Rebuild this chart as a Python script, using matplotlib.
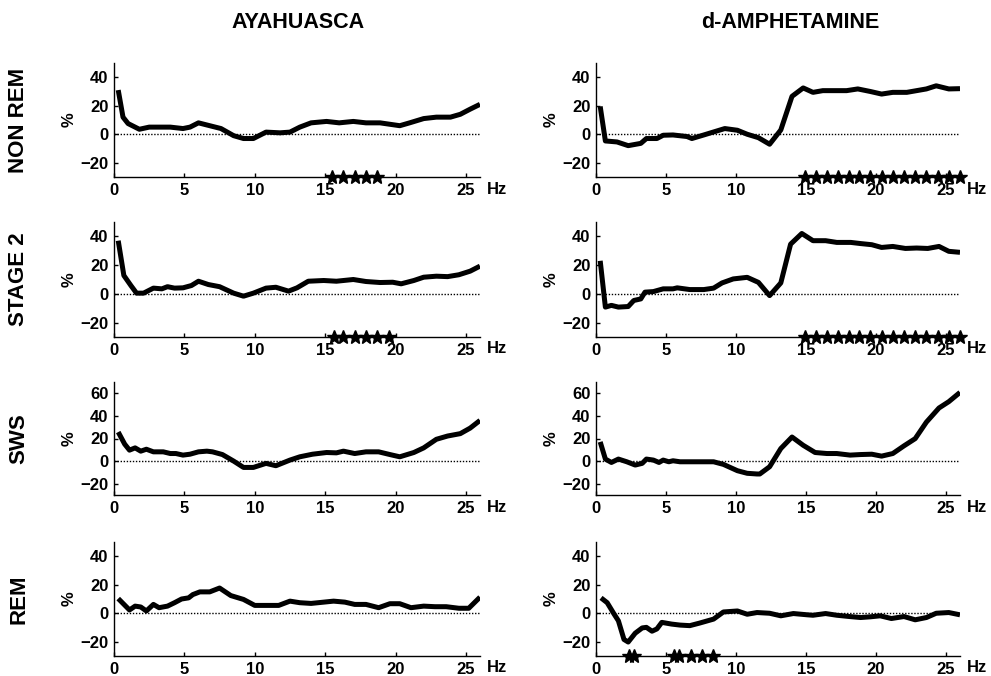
import matplotlib
matplotlib.use("Agg")
import matplotlib.pyplot as plt

plt.rcParams['font.family'] = ['Liberation Sans', 'DejaVu Sans']
plt.rcParams['font.weight'] = 'bold'

columns = ["AYAHUASCA", "d-AMPHETAMINE"]
rows = ["NON REM", "STAGE 2", "SWS", "REM"]
x_ticks = [0, 5, 10, 15, 20, 25]

# AYAHUASCA, NON REM
aya_nrem_hz = [0.3, 0.64, 1.0, 1.8, 2.5, 4.0, 4.9, 5.4, 6.0, 6.8, 7.6, 8.5, 9.2, 9.9, 10.8, 11.8,
               12.5, 13.2, 14.0, 15.1, 16.0, 17.0, 17.9, 18.9, 19.6, 20.3, 21.0, 22.0, 22.9, 23.9,
               24.6, 25.3, 26.0]
aya_nrem_pct = [31, 12, 7.5, 3.5, 5, 5, 4, 5, 8, 6, 4, -1, -3, -3, 1.5, 1,
                1.5, 5, 8, 9, 8, 9, 8, 8, 7, 6, 8, 11, 12, 12,
                14, 17.6, 21]
aya_nrem_stars = [15.5, 16.3, 17.1, 17.9, 18.7]

# d-AMPHETAMINE, NON REM
amp_nrem_hz = [0.3, 0.67, 1.5, 2.3, 3.2, 3.6, 4.35, 4.8, 5.5, 6.5, 6.85, 7.7, 8.4, 9.2, 10.1, 10.8,
               11.6, 12.4, 13.2, 14.0, 14.8, 15.5, 16.2, 17.2, 17.9, 18.7, 19.6, 20.4, 21.2, 22.2,
               22.9, 23.6, 24.3, 25.2, 26.0]
amp_nrem_pct = [19.5, -4.7, -5.4, -8, -6.4, -3, -3, -0.7, -0.5, -1.6, -3, -0.5, 1.6, 4, 2.8, 0,
                -2.4, -7, 3, 26.6, 32.5, 29.4, 30.6, 30.6, 30.6, 31.8, 30, 28.2, 29.4, 29.4,
                30.6, 31.8, 34, 31.8, 32]
amp_nrem_stars = [14.9, 15.7, 16.5, 17.3, 18.1, 18.8, 19.6, 20.4, 21.2, 22.0, 22.8, 23.6, 24.4,
                  25.2, 26.0]

# AYAHUASCA, STAGE 2
aya_s2_hz = [0.3, 0.7, 1.2, 1.6, 2.1, 2.8, 3.4, 3.8, 4.3, 4.9, 5.5, 6.0, 6.7, 7.5, 8.5, 9.2,
             9.9, 10.8, 11.5, 12.4, 13.0, 13.8, 14.9, 15.8, 17.0, 17.9, 18.9, 19.8, 20.4, 21.3,
             22.0, 22.9, 23.7, 24.5, 25.3, 26.0]
aya_s2_pct = [37, 12.8, 5.8, 0.5, 0.5, 4, 3.5, 5, 4, 4.2, 5.8, 8.8, 6.5, 5, 0.5, -1.6,
              0.5, 4, 4.6, 1.9, 4.2, 8.8, 9.3, 8.8, 10, 8.6, 7.9, 8.1, 7, 9.3,
              11.6, 12.3, 12, 13.3, 15.8, 19.3]
aya_s2_stars = [15.6, 16.3, 17.1, 17.9, 18.7, 19.5]

# d-AMPHETAMINE, STAGE 2
amp_s2_hz = [0.3, 0.67, 1.1, 1.6, 2.3, 2.7, 3.2, 3.5, 4.1, 4.8, 5.5, 5.8, 6.7, 7.7, 8.4, 9.0,
             9.8, 10.8, 11.6, 12.4, 13.2, 13.9, 14.7, 15.5, 16.4, 17.2, 18.2, 18.9, 19.7, 20.4,
             21.2, 22.1, 22.9, 23.7, 24.5, 25.2, 26.0]
amp_s2_pct = [23, -9.2, -8, -9.2, -8.8, -4.6, -3.5, 1.2, 1.6, 3.5, 3.5, 4.2, 3, 3, 4, 7.6,
              10.4, 11.5, 8, -1.2, 7.6, 34.6, 42, 37, 37, 35.8, 35.8, 35, 34.2, 32.3,
              33, 31.6, 31.9, 31.6, 33, 29.6, 28.9]
amp_s2_stars = [14.9, 15.7, 16.5, 17.3, 18.1, 18.8, 19.6, 20.4, 21.2, 22.0, 22.8, 23.6, 24.4,
                25.2, 26.0]

# AYAHUASCA, SWS
aya_sws_hz = [0.3, 0.76, 1.1, 1.5, 1.9, 2.3, 2.8, 3.5, 4.0, 4.4, 4.9, 5.4, 6.0, 6.6, 7.0, 7.7,
              8.5, 9.2, 9.9, 10.8, 11.5, 12.5, 13.2, 14.1, 15.1, 15.8, 16.3, 17.1, 17.9, 18.8,
              19.6, 20.3, 21.3, 22.0, 22.9, 23.7, 24.6, 25.3, 26.0]
aya_sws_pct = [25.7, 15, 9.7, 11.7, 8.8, 10.5, 8.2, 8.2, 6.7, 6.7, 5.3, 6.1, 8.2, 8.8, 8.2, 5.8,
               0, -5.6, -5.6, -2, -4.1, 0.9, 3.8, 6.1, 7.6, 7.3, 8.8, 6.7, 8.2, 8.2,
               5.8, 3.8, 7.6, 11.7, 19.3, 22.2, 24.3, 29.2, 36]
aya_sws_stars = []

# d-AMPHETAMINE, SWS
amp_sws_hz = [0.3, 0.67, 1.1, 1.6, 2.2, 2.8, 3.3, 3.6, 4.1, 4.5, 4.8, 5.2, 5.5, 6.0, 8.4, 9.1,
              10.1, 10.8, 11.5, 11.7, 12.4, 13.2, 14.0, 14.8, 15.65, 16.5, 17.2, 18.15, 18.9, 19.7,
              20.4, 21.2, 22.0, 22.8, 23.6, 24.5, 25.2, 26.0]
amp_sws_pct = [17, 1.8, -1.2, 1.8, -0.6, -3.5, -2, 1.8, 0.9, -1.2, 0.9, -0.6, 0.3, -0.6, -0.6, -2.9,
               -8.5, -10.8, -11.4, -11.4, -5, 11.1, 21.3, 14, 7.6, 6.7, 6.7, 5.3, 5.8, 6.1,
               4.4, 6.7, 13.5, 19.9, 34.5, 47, 52.6, 60.8]
amp_sws_stars = []

# AYAHUASCA, REM
aya_rem_hz = [0.3, 1.1, 1.5, 1.9, 2.3, 2.8, 3.2, 3.8, 4.3, 4.8, 5.3, 5.6, 6.1, 6.8, 7.5, 8.3,
              9.2, 10.0, 10.8, 11.7, 12.5, 13.2, 14.0, 14.9, 15.6, 16.4, 17.1, 17.9, 18.8, 19.6,
              20.3, 21.1, 22.0, 22.8, 23.6, 24.5, 25.2, 26.0]
aya_rem_pct = [10.3, 2.3, 5, 4.4, 1.6, 6.2, 3.9, 5, 7.4, 10, 10.8, 13.1, 15, 15, 17.7, 12.4,
               9.7, 5.5, 5.5, 5.5, 8.5, 7.4, 6.9, 7.8, 8.5, 7.8, 6.2, 6.2, 3.9, 6.7,
               6.7, 3.9, 5, 4.6, 4.6, 3.5, 3.5, 11.3]
aya_rem_stars = []

# d-AMPHETAMINE, REM
amp_rem_hz = [0.36, 0.8, 1.3, 1.6, 2.0, 2.3, 2.8, 3.3, 3.6, 4.0, 4.35, 4.7, 5.4, 6.0, 6.7, 7.4,
              8.4, 9.1, 10.1, 10.8, 11.5, 12.4, 13.2, 14.1, 15.1, 15.5, 16.4, 17.2, 18.1, 18.9,
              19.6, 20.3, 21.1, 22.0, 22.8, 23.6, 24.3, 25.2, 26.0]
amp_rem_pct = [10.8, 7.4, -0.7, -5.3, -18.4, -20.2, -14, -10.3, -9.9, -12.6, -11, -6.4, -7.6, -8.3, -8.7, -6.9,
               -4.1, 0.9, 1.6, -0.7, 0.5, 0, -1.8, -0.2, -1.1, -1.4, -0.2, -1.4, -2.3, -3,
               -2.5, -1.8, -3.7, -2.3, -4.6, -3, 0, 0.5, -1.1]
amp_rem_stars = [2.33, 2.74, 5.54, 5.95, 6.78, 7.56, 8.35]

panels = [
    [(aya_nrem_hz, aya_nrem_pct, aya_nrem_stars), (amp_nrem_hz, amp_nrem_pct, amp_nrem_stars)],
    [(aya_s2_hz, aya_s2_pct, aya_s2_stars), (amp_s2_hz, amp_s2_pct, amp_s2_stars)],
    [(aya_sws_hz, aya_sws_pct, aya_sws_stars), (amp_sws_hz, amp_sws_pct, amp_sws_stars)],
    [(aya_rem_hz, aya_rem_pct, aya_rem_stars), (amp_rem_hz, amp_rem_pct, amp_rem_stars)],
]
y_limits = [(-30, 50), (-30, 50), (-30, 70), (-30, 50)]
y_ticks = [[-20, 0, 20, 40], [-20, 0, 20, 40], [-20, 0, 20, 40, 60], [-20, 0, 20, 40]]

W, H = 991, 676
fig = plt.figure(figsize=(W / 100, H / 100), dpi=100)

col_px = [(114, 480), (596, 960)]
row_px = [(63, 177), (222, 337), (382, 495), (542, 656)]

for r in range(4):
    top, bot = row_px[r]
    for c in range(2):
        left, right = col_px[c]
        ax = fig.add_axes([left / W, 1 - bot / H, (right - left) / W, (bot - top) / H])
        hz, pct, stars = panels[r][c]
        ax.plot([0, 26], [0, 0], color='black', lw=1.0, ls=(0, (1, 1.2)))
        ax.plot(hz, pct, color='black', lw=3.6, solid_joinstyle='round', solid_capstyle='butt')
        if stars:
            ax.plot(stars, [y_limits[r][0]] * len(stars), ls='none', marker='*',
                    color='black', markersize=10, clip_on=False, zorder=5)
        ax.set_xlim(0, 26)
        ax.set_ylim(*y_limits[r])
        ax.set_xticks(x_ticks)
        ax.set_yticks(y_ticks[r])
        ax.spines['top'].set_visible(False)
        ax.spines['right'].set_visible(False)
        for s in ('left', 'bottom'):
            ax.spines[s].set_linewidth(1.0)
        ax.tick_params(direction='in', length=3, width=1, labelsize=12, pad=4)
        for lab in ax.get_xticklabels() + ax.get_yticklabels():
            lab.set_fontweight('bold')
        ax.set_ylabel('%', fontsize=12, fontweight='bold', labelpad=3)
        ax.text(1.02, -12 / (bot - top), 'Hz', transform=ax.transAxes, fontsize=12,
                fontweight='bold', ha='left', va='center')

fig.text(298 / W, 1 - 23 / H, columns[0], ha='center', va='center', fontsize=15.5, fontweight='bold')
fig.text(790 / W, 1 - 23 / H, columns[1], ha='center', va='center', fontsize=15.5, fontweight='bold')
for r in range(4):
    top, bot = row_px[r]
    fig.text(19 / W, 1 - ((top + bot) / 2) / H, rows[r], ha='center', va='center',
             rotation=90, fontsize=16, fontweight='bold')

fig.savefig('out.png', dpi=100)
